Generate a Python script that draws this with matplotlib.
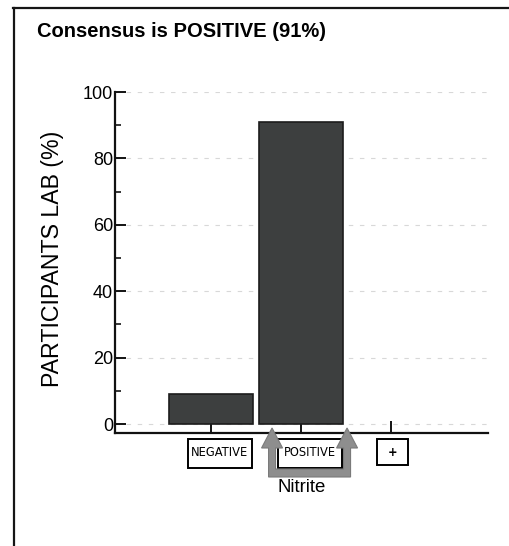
import matplotlib
matplotlib.use("Agg")
import matplotlib.pyplot as plt
import matplotlib.transforms as mtransforms
from matplotlib.patches import Polygon, Rectangle
from matplotlib.lines import Line2D
from matplotlib import font_manager

# ---- data ----
categories = ["NEGATIVE", "POSITIVE", "+"]
values = [9, 91, 0]
consensus_index = 1
title = "Consensus is POSITIVE (91%)"
xlabel = "Nitrite"
ylabel = "PARTICIPANTS LAB (%)"
yticks = [0, 20, 40, 60, 80, 100]
yminor = [10, 30, 50, 70, 90]

plt.rcParams['font.family'] = ['Liberation Sans', 'DejaVu Sans']
fonts = font_manager.fontManager.ttflist
names = {f.name for f in fonts}
box_stretch = 'normal'
if 'Liberation Sans Narrow' in names:
    box_family = ['Liberation Sans Narrow', 'DejaVu Sans']
    box_fs = 11
elif any(f.name == 'DejaVu Sans' and str(f.stretch) in ('condensed', 'semi-condensed', '87.5', '75')
         for f in fonts):
    box_family = ['DejaVu Sans']
    box_stretch = 'condensed'
    box_fs = 9.2
else:
    box_family = ['Liberation Sans', 'DejaVu Sans']
    box_fs = 9.0

W, H = 510, 546
fig = plt.figure(figsize=(W / 100, H / 100), dpi=100)
ax = fig.add_axes([115 / W, (H - 433) / H, (488 - 115) / W, (433 - 92) / H])

xs = list(range(len(categories)))
for x, v in zip(xs, values):
    if v > 0:
        ax.bar(x, v, width=0.94, color='#3d3f3f', edgecolor='#1c1c1c',
               linewidth=1.2, zorder=3)

ax.set_xlim(-1.067, 3.078)
ax.set_ylim(-2.7, 100)
ax.set_yticks(yticks)
ax.set_yticks(yminor, minor=True)
ax.set_xticks(xs)
ax.set_xticklabels(categories, fontsize=box_fs, family=box_family,
                   fontstretch=box_stretch)
ax.tick_params(axis='y', which='major', direction='in', length=8, width=1.3,
               labelsize=13, pad=1.5)
ax.tick_params(axis='y', which='minor', direction='in', length=4, width=1.1)
ax.tick_params(axis='x', which='major', direction='in', length=9, width=1.3,
               pad=9.6)

for sp in ['top', 'right']:
    ax.spines[sp].set_visible(False)
for sp in ['left', 'bottom']:
    ax.spines[sp].set_linewidth(1.6)
    ax.spines[sp].set_color('#111111')

ax.yaxis.grid(True, color='#d8d8d8', linestyle=(0, (4, 6)), linewidth=0.8)
ax.set_axisbelow(True)


def px_trans(xdata):
    """pixel-offset transform anchored at (xdata, x-axis spine)."""
    anchor = mtransforms.ScaledTranslation(xdata, 0, ax.get_xaxis_transform())
    return mtransforms.Affine2D().scale(1 / 100) + fig.dpi_scale_trans + anchor


# boxes around tick labels, text labels nudged right
for i, lab in enumerate(ax.get_xticklabels()):
    is_plus = categories[i] == "+"
    dx = 1.5 if is_plus else 8.8
    bw = 31 if is_plus else 64
    bh = 26 if is_plus else 29
    if is_plus:
        lab.set_fontweight('bold')
    lab.set_transform(lab.get_transform() +
                      mtransforms.ScaledTranslation(dx / 100, 0, fig.dpi_scale_trans))
    rect = Rectangle((dx - bw / 2, -6 - bh), bw, bh, facecolor='white',
                     edgecolor='black', linewidth=1.4, transform=px_trans(xs[i]),
                     clip_on=False, zorder=0.5)
    ax.add_artist(rect)

ax.set_xlabel(xlabel, fontsize=13.4)
ax.xaxis.set_label_coords((302 - 115) / 373, -(478.5 - 433) / 341)
ax.set_ylabel(ylabel, fontsize=16.7)
ax.yaxis.set_label_coords(-(115 - 64) / 373, (433 - 259) / 341)

# consensus U-shaped arrows (pixel offsets around the consensus label)
verts = [(-41, -44), (41, -44), (41, -15), (48, -15), (37.5, 5), (27, -15),
         (34, -15), (34, -36), (-34, -36), (-34, -15), (-27, -15),
         (-37.5, 5), (-48, -15), (-41, -15)]
arrow = Polygon(verts, closed=True, facecolor='#8e8e8e', edgecolor='#7a7a7a',
                linewidth=0.8, transform=px_trans(consensus_index + 0.095),
                clip_on=False, zorder=4)
ax.add_artist(arrow)

# title and outer frame
fig.text(37 / W, (H - 37) / H, title, fontsize=14.5, fontweight='bold',
         ha='left', va='baseline')
fig.add_artist(Line2D([14 / W, 14 / W], [0, (H - 7.5) / H], color='#151515',
                      linewidth=1.6, transform=fig.transFigure))
fig.add_artist(Line2D([13.3 / W, 1], [(H - 7.5) / H, (H - 7.5) / H],
                      color='#151515', linewidth=1.6, transform=fig.transFigure))

fig.savefig("out.png", dpi=100)
